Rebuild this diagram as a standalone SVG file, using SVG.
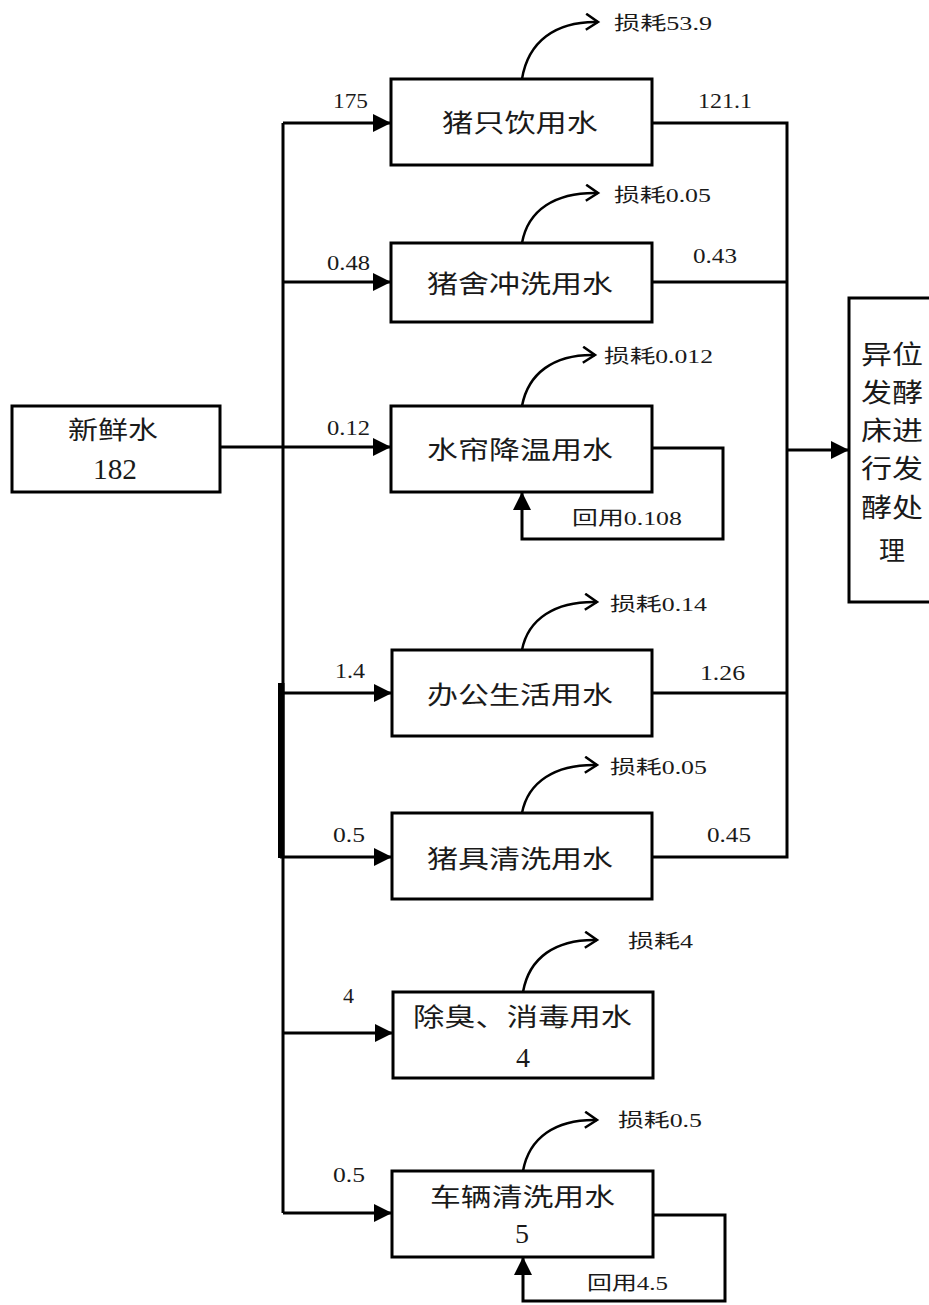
<svg xmlns="http://www.w3.org/2000/svg" width="929" height="1305" viewBox="0 0 929 1305">
<style>
.box{fill:#fff;stroke:#000;stroke-width:3}
.ln{fill:none;stroke:#000;stroke-width:3}
.cv{fill:none;stroke:#000;stroke-width:2.5}
.lbl{font-family:"Noto Sans CJK SC",sans-serif;font-size:25px;fill:#1a1a1a}
.num{font-family:"Liberation Serif","Noto Sans CJK SC",serif;font-size:21px;fill:#1a1a1a}
.loss{font-family:"Liberation Serif","Noto Sans CJK SC",serif;font-size:19px;fill:#1a1a1a}
</style>
<defs>
<marker id="fa" markerUnits="userSpaceOnUse" markerWidth="18" markerHeight="18" refX="18" refY="9" orient="auto">
<path d="M0,0 L18,9 L0,18 z" fill="#000"/>
</marker>
<marker id="oa" markerUnits="userSpaceOnUse" markerWidth="16" markerHeight="20" refX="13" refY="9" orient="auto">
<path d="M1,1 L13,9 L1,17" fill="none" stroke="#000" stroke-width="2.5"/>
</marker>
</defs>
<rect width="929" height="1305" fill="#fff"/>

<g id="connectors">
<!-- trunk -->
<path class="ln" d="M283,123 V1213"/>
<rect x="278" y="683" width="6.5" height="175" fill="#000"/>
<path class="ln" d="M220,447 H283"/>
<!-- inputs -->
<path class="ln" d="M283,123 H391" marker-end="url(#fa)"/>
<path class="ln" d="M283,282 H391" marker-end="url(#fa)"/>
<path class="ln" d="M283,447 H391" marker-end="url(#fa)"/>
<path class="ln" d="M280,693 H392" marker-end="url(#fa)"/>
<path class="ln" d="M280,857 H392" marker-end="url(#fa)"/>
<path class="ln" d="M283,1033 H393" marker-end="url(#fa)"/>
<path class="ln" d="M283,1213 H392" marker-end="url(#fa)"/>
<!-- outputs -->
<path class="ln" d="M652,123 H787 V857 H652"/>
<path class="ln" d="M652,282 H787"/>
<path class="ln" d="M652,693 H787"/>
<path class="ln" d="M787,450 H849" marker-end="url(#fa)"/>
<!-- recycle loops -->
<path class="ln" d="M652,448 H723 V539 H522 V492" marker-end="url(#fa)"/>
<path class="ln" d="M653,1215 H725 V1301 H523 V1257" marker-end="url(#fa)"/>
<!-- loss curves -->
<path class="cv" d="M522,79 C528,42 555,21 598,22" marker-end="url(#oa)"/>
<path class="cv" d="M522,243 C528,210 555,192 598,193" marker-end="url(#oa)"/>
<path class="cv" d="M522,406 C528,374 553,354 595,355" marker-end="url(#oa)"/>
<path class="cv" d="M522,650 C528,619 555,601 597,602" marker-end="url(#oa)"/>
<path class="cv" d="M522,813 C528,782 555,764 597,765" marker-end="url(#oa)"/>
<path class="cv" d="M523,992 C529,958 555,939 597,940" marker-end="url(#oa)"/>
<path class="cv" d="M523,1171 C529,1138 555,1119 597,1120" marker-end="url(#oa)"/>
</g>

<g id="labels">
<text class="num" x="333" y="108" textLength="35" lengthAdjust="spacingAndGlyphs">175</text>
<text class="num" x="327" y="270" textLength="43" lengthAdjust="spacingAndGlyphs">0.48</text>
<text class="num" x="327" y="435" textLength="43" lengthAdjust="spacingAndGlyphs">0.12</text>
<text class="num" x="335" y="678" textLength="30" lengthAdjust="spacingAndGlyphs">1.4</text>
<text class="num" x="333" y="842" textLength="32" lengthAdjust="spacingAndGlyphs">0.5</text>
<text class="num" x="343" y="1003" textLength="11" lengthAdjust="spacingAndGlyphs">4</text>
<text class="num" x="333" y="1182" textLength="32" lengthAdjust="spacingAndGlyphs">0.5</text>
<text class="num" x="698" y="108" textLength="54" lengthAdjust="spacingAndGlyphs">121.1</text>
<text class="num" x="693" y="263" textLength="44" lengthAdjust="spacingAndGlyphs">0.43</text>
<text class="num" x="700" y="680" textLength="45" lengthAdjust="spacingAndGlyphs">1.26</text>
<text class="num" x="707" y="842" textLength="44" lengthAdjust="spacingAndGlyphs">0.45</text>
<text class="loss" x="614" y="30" textLength="98" lengthAdjust="spacingAndGlyphs">损耗53.9</text>
<text class="loss" x="614" y="202" textLength="97" lengthAdjust="spacingAndGlyphs">损耗0.05</text>
<text class="loss" x="604" y="363" textLength="109" lengthAdjust="spacingAndGlyphs">损耗0.012</text>
<text class="loss" x="610" y="611" textLength="97" lengthAdjust="spacingAndGlyphs">损耗0.14</text>
<text class="loss" x="610" y="774" textLength="97" lengthAdjust="spacingAndGlyphs">损耗0.05</text>
<text class="loss" x="628" y="948" textLength="65" lengthAdjust="spacingAndGlyphs">损耗4</text>
<text class="loss" x="618" y="1127" textLength="84" lengthAdjust="spacingAndGlyphs">损耗0.5</text>
<text class="loss" x="572" y="525" textLength="110" lengthAdjust="spacingAndGlyphs">回用0.108</text>
<text class="loss" x="587" y="1290" textLength="81" lengthAdjust="spacingAndGlyphs">回用4.5</text>
</g>

<g id="fresh">
<rect class="box" x="12" y="406" width="208" height="86"/>
<text class="lbl" x="68" y="428" dominant-baseline="central" textLength="90" lengthAdjust="spacingAndGlyphs">新鲜水</text>
<text class="num" x="93" y="479" style="font-size:30px" textLength="44" lengthAdjust="spacingAndGlyphs">182</text>
</g>

<g id="n1">
<rect class="box" x="391" y="79" width="261" height="86"/>
<text class="lbl" x="442" y="121" dominant-baseline="central" textLength="156" lengthAdjust="spacingAndGlyphs">猪只饮用水</text>
</g>
<g id="n2">
<rect class="box" x="391" y="243" width="261" height="79"/>
<text class="lbl" x="427" y="282" dominant-baseline="central" textLength="186" lengthAdjust="spacingAndGlyphs">猪舍冲洗用水</text>
</g>
<g id="n3">
<rect class="box" x="391" y="406" width="261" height="86"/>
<text class="lbl" x="427" y="448" dominant-baseline="central" textLength="186" lengthAdjust="spacingAndGlyphs">水帘降温用水</text>
</g>
<g id="n4">
<rect class="box" x="392" y="650" width="260" height="86"/>
<text class="lbl" x="427" y="693" dominant-baseline="central" textLength="186" lengthAdjust="spacingAndGlyphs">办公生活用水</text>
</g>
<g id="n5">
<rect class="box" x="392" y="813" width="260" height="86"/>
<text class="lbl" x="427" y="857" dominant-baseline="central" textLength="186" lengthAdjust="spacingAndGlyphs">猪具清洗用水</text>
</g>
<g id="n6">
<rect class="box" x="393" y="992" width="260" height="86"/>
<text class="lbl" x="413" y="1015" dominant-baseline="central" textLength="219" lengthAdjust="spacingAndGlyphs">除臭、消毒用水</text>
<text class="num" x="523" y="1067" text-anchor="middle" style="font-size:28px">4</text>
</g>
<g id="n7">
<rect class="box" x="392" y="1171" width="261" height="86"/>
<text class="lbl" x="430" y="1195" dominant-baseline="central" textLength="185" lengthAdjust="spacingAndGlyphs">车辆清洗用水</text>
<text class="num" x="522" y="1243" text-anchor="middle" style="font-size:28px">5</text>
</g>
<g id="n8">
<rect class="box" x="849" y="298" width="95" height="304"/>
<text class="lbl" x="892" y="352" text-anchor="middle" dominant-baseline="central" style="font-size:26px" textLength="62" lengthAdjust="spacingAndGlyphs">异位</text>
<text class="lbl" x="892" y="390" text-anchor="middle" dominant-baseline="central" style="font-size:26px" textLength="62" lengthAdjust="spacingAndGlyphs">发酵</text>
<text class="lbl" x="892" y="428" text-anchor="middle" dominant-baseline="central" style="font-size:26px" textLength="62" lengthAdjust="spacingAndGlyphs">床进</text>
<text class="lbl" x="892" y="466" text-anchor="middle" dominant-baseline="central" style="font-size:26px" textLength="62" lengthAdjust="spacingAndGlyphs">行发</text>
<text class="lbl" x="892" y="505" text-anchor="middle" dominant-baseline="central" style="font-size:26px" textLength="62" lengthAdjust="spacingAndGlyphs">酵处</text>
<text class="lbl" x="892" y="548" text-anchor="middle" dominant-baseline="central" style="font-size:26px">理</text>
</g>
</svg>
